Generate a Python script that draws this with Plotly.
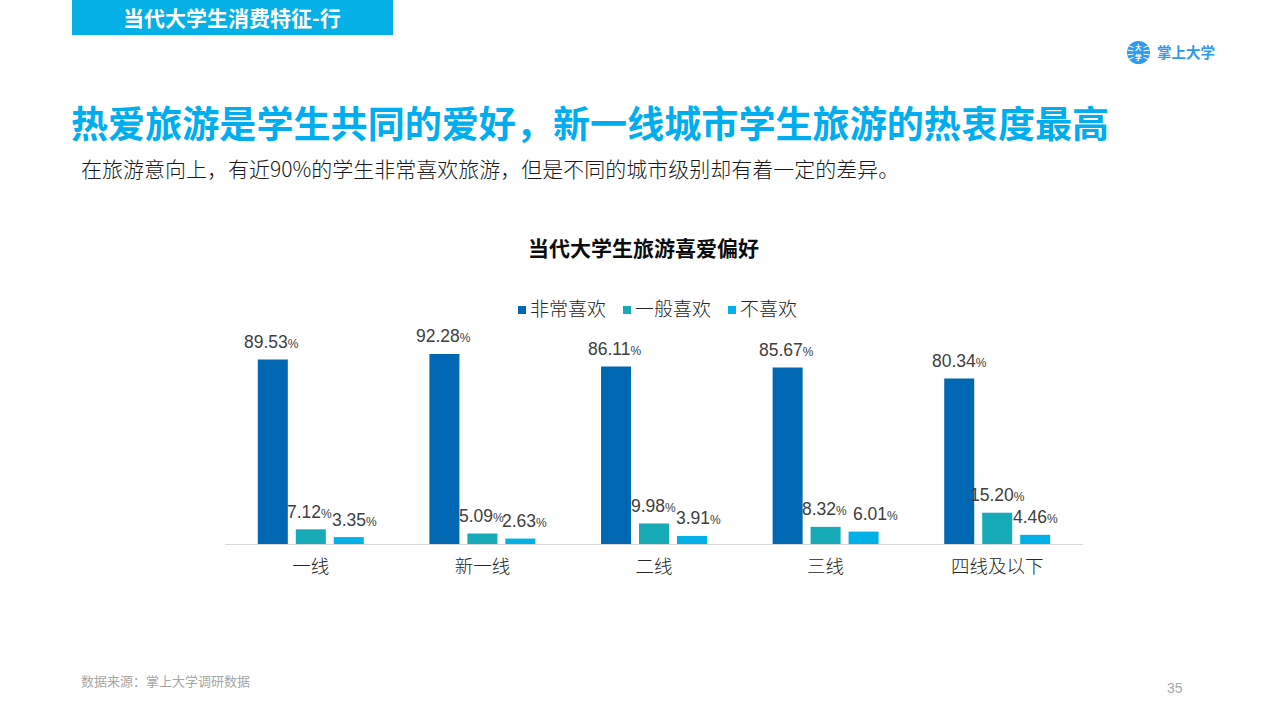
import plotly.graph_objects as go

W, H = 1280, 720
CJK = "Noto Sans CJK SC"

categories = ["一线", "新一线", "二线", "三线", "四线及以下"]
series_names = ["非常喜欢", "一般喜欢", "不喜欢"]
very_much = [89.53, 92.28, 86.11, 85.67, 80.34]
somewhat = [7.12, 5.09, 9.98, 8.32, 15.20]
dislike = [3.35, 2.63, 3.91, 6.01, 4.46]
colors = ["#0068B2", "#17ABB8", "#00B0E6"]

# label nudges in px, the third series is pushed right so labels do not collide
nudge_very_much = [-39, -39, -39, -39, -38]
nudge_somewhat = [-1, -1, -1, -1, 0]
nudge_dislike = [44, 42, 44, 50, 38]

def px_x(x):
    return x / W

def px_y(y):
    return 1 - y / H

def pct(v):
    return f"{v:.2f}<span style='font-size:12px'>%</span>"

fig = go.Figure()
for name, vals, col in zip(series_names, [very_much, somewhat, dislike], colors):
    fig.add_trace(go.Bar(name=name, x=categories, y=vals, marker_color=col, marker_line_width=0,
                         hoverinfo="skip", showlegend=False))

annotations = []

# data labels, sitting a bit above each bar
for vals, nudges in zip([very_much, somewhat, dislike], [nudge_very_much, nudge_somewhat, nudge_dislike]):
    for cat, v, n in zip(categories, vals, nudges):
        annotations.append(dict(x=cat, y=v, xref="x", yref="y", text=pct(v), showarrow=False,
                                xshift=n, yshift=17.5, yanchor="middle", xanchor="center",
                                font=dict(family=f"Liberation Sans, {CJK}", size=17.5, color="#404040")))

def label(x, y, text, size, color, weight=400, anchor="left", family=CJK):
    annotations.append(dict(x=px_x(x), y=px_y(y), xref="paper", yref="paper", text=text, showarrow=False,
                            xanchor=anchor, yanchor="middle",
                            font=dict(family=family, size=size, color=color, weight=weight)))

label(232, 17, "当代大学生消费特征-行", 21, "#FFFFFF", 700, "center")
label(69, 122, "热爱旅游是学生共同的爱好，新一线城市学生旅游的热衷度最高", 37.1, "#00AEEF", 700)
label(79, 168, "在旅游意向上，有近90%的学生非常喜欢旅游，但是不同的城市级别却有着一定的差异。", 21, "#1A1A1A", 300)
label(643, 247, "当代大学生旅游喜爱偏好", 21, "#0D0D0D", 700, "center")
label(79, 680, "数据来源：掌上大学调研数据", 13, "#A6A6A6")
label(1175, 688, "35", 14, "#A6A6A6", 400, "center", "Liberation Sans")
label(1155, 52, "掌上大学", 14.5, "#2E9BF0", 700)
label(1138.5, 47, "大", 6.5, "#FFFFFF", 700, "center")
label(1138.5, 56.5, "学", 6.5, "#FFFFFF", 700, "center")

shapes = [
    dict(type="rect", xref="paper", yref="paper", x0=px_x(72), x1=px_x(393), y0=px_y(35), y1=px_y(0),
         fillcolor="#05B0E6", line_width=0, layer="below"),
    dict(type="circle", xref="paper", yref="paper", x0=px_x(1127), x1=px_x(1150), y0=px_y(64), y1=px_y(41),
         fillcolor="#2E9BF0", line_width=0, layer="below"),
]
# white rays on the logo
for side in (-1, 1):
    for dy in (-6, -2, 2, 6):
        shapes.append(dict(type="line", xref="paper", yref="paper",
                           x0=px_x(1138.5 + side * 5), x1=px_x(1138.5 + side * 11),
                           y0=px_y(52.5 + dy * 0.8), y1=px_y(52.5 + dy * 1.2),
                           line=dict(color="#FFFFFF", width=1)))

# legend by hand, plotly's own swatch is too big and sits too far from the text
for name, col, sx in zip(series_names, colors, [518, 623, 728]):
    shapes.append(dict(type="rect", xref="paper", yref="paper", x0=px_x(sx), x1=px_x(sx + 8),
                       y0=px_y(314), y1=px_y(306), fillcolor=col, line_width=0))
    label(sx + 10, 307, name, 19, "#262626", 300)

fig.update_layout(
    width=W, height=H, autosize=False,
    margin=dict(l=0, r=0, t=0, b=0),
    paper_bgcolor="#FFFFFF", plot_bgcolor="#FFFFFF",
    barmode="group", bargap=0.336, bargroupgap=0.21,
    annotations=annotations, shapes=shapes,
    xaxis=dict(domain=[px_x(225), px_x(1083)], showline=True, linecolor="#D9D9D9", linewidth=1,
               showgrid=False, ticks="", ticklabelstandoff=6,
               tickfont=dict(family=CJK, size=18.5, color="#262626", weight=300)),
    yaxis=dict(domain=[px_y(544), px_y(338)], range=[0, 100], visible=False, showgrid=False),
)

fig.write_html("out.html", config={"displayModeBar": False},
               post_script="document.body.style.margin='0';")
